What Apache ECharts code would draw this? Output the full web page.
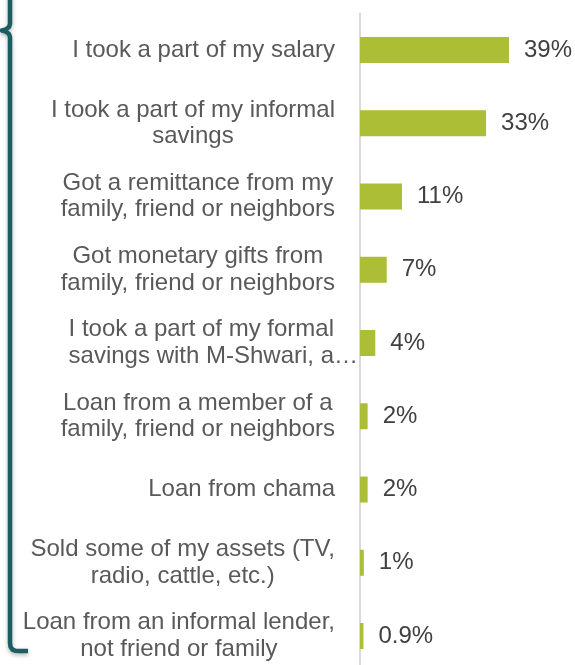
<!DOCTYPE html>
<html>
<head>
<meta charset="utf-8">
<script src="https://cdn.jsdelivr.net/npm/echarts@6/dist/echarts.min.js"></script>
<style>
  html, body { margin: 0; padding: 0; background: #ffffff; overflow: hidden; }
  /* the plot runs past the lower edge of the window */
  #chart { width: 575px; height: 680px; }
</style>
</head>
<body>
<div id="chart"></div>
<script>
// Sources of money, share of respondents (%)
var categories = [
  'I took a part of my salary',
  'I took a part of my informal\nsavings',
  'Got a remittance from my\nfamily, friend or neighbors',
  'Got monetary gifts from\nfamily, friend or neighbors',
  'I took a part of my formal\nsavings with M-Shwari, a\u2026',
  'Loan from a member of a\nfamily, friend or neighbors',
  'Loan from chama',
  'Sold some of my assets (TV,\nradio, cattle, etc.)',
  'Loan from an informal lender,\nnot friend or family'
];
var shares = [39, 33, 11, 7, 4, 2, 2, 1, 0.9];

var FONT = '"Liberation Sans", Arial, Helvetica, sans-serif';
var labelStyle = { fontSize: 24, lineHeight: 26.5, color: '#595959', fontFamily: FONT };

function isTruncated(text) { return text.indexOf('\u2026') >= 0; }

// the truncated label is flush left and runs up to the axis line
var categoryItems = categories.map(function (c) {
  return isTruncated(c) ? { value: c, textStyle: { padding: [0, -23, 0, 0] } } : c;
});

var chart = echarts.init(document.getElementById('chart'), null, { renderer: 'canvas' });

chart.setOption({
  animation: false,
  backgroundColor: '#ffffff',
  grid: { left: 360, top: 13.4, width: 191, height: 659.25 },
  xAxis: {
    type: 'value', min: 0, max: 50, show: false
  },
  yAxis: {
    type: 'category',
    inverse: true,
    data: categoryItems,
    axisLine: { show: true, lineStyle: { color: '#d9d9d9', width: 2 } },
    axisTick: { show: false },
    splitLine: { show: false },
    axisLabel: {
      margin: 25,
      align: 'right',
      formatter: function (v) {
        var key = isTruncated(v) ? 'l' : 'c';
        return v.split('\n').map(function (line) {
          return '{' + key + '|' + line + '}';
        }).join('\n');
      },
      rich: {
        c: Object.assign({ align: 'center' }, labelStyle),
        l: Object.assign({ align: 'left' }, labelStyle)
      }
    }
  },
  series: [{
    type: 'bar',
    data: shares,
    barWidth: 26,
    itemStyle: { color: '#acbd36' },
    label: {
      show: true,
      position: 'right',
      distance: 15,
      fontSize: 24,
      fontFamily: FONT,
      color: '#404040',
      formatter: function (p) { return p.value + '%'; }
    }
  }],
  graphic: [{
    // bracket along the left edge
    type: 'polyline',
    silent: true,
    shape: {
      points: [
        [10, -20], [10, 24], [9, 27], [6, 29.3], [2, 30.5], [6, 31.7], [9, 34], [10, 37],
        [10, 643], [10.6, 647], [12.5, 649.6], [15.5, 650.8], [19, 651], [28, 651]
      ]
    },
    style: {
      fill: null,
      stroke: '#1b5e61',
      lineWidth: 4.5,
      lineJoin: 'round',
      shadowBlur: 4,
      shadowOffsetY: 2,
      shadowColor: 'rgba(0,0,0,0.3)'
    }
  }]
});
</script>
</body>
</html>
